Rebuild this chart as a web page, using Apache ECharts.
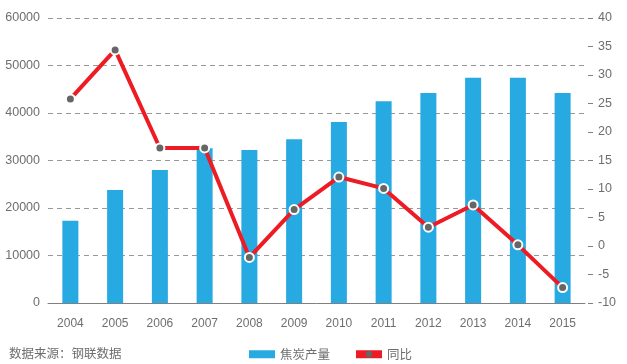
<!DOCTYPE html>
<html>
<head>
<meta charset="utf-8">
<script src="https://cdn.jsdelivr.net/npm/echarts@6/dist/echarts.min.js"></script>
<style>
html,body{margin:0;padding:0;background:#fff;}
#chart{width:627px;height:364px;}
</style>
</head>
<body>
<div id="chart"></div>
<script>
const years = ['2004','2005','2006','2007','2008','2009','2010','2011','2012','2013','2014','2015'];
const cokeOutput = [17300, 23800, 28000, 32600, 32200, 34500, 38100, 42500, 44200, 47400, 47400, 44200];
const yoyGrowth = [25.8, 34.4, 17.2, 17.2, -2.0, 6.4, 12.1, 10.1, 3.3, 7.2, 0.2, -7.3];
const sourceText = '数据来源：钢联数据';
const barName = '焦炭产量';
const lineName = '同比';

const labelColor = '#6d6e71';
const font = '"Liberation Sans", Arial, sans-serif';
const chart = echarts.init(document.getElementById('chart'));
chart.setOption({
  animation: false,
  backgroundColor: '#fff',
  title: {
    text: sourceText,
    left: 4,
    top: 342,
    textStyle: {fontSize: 12.5, fontWeight: 'normal', color: labelColor, fontFamily: '"Noto Sans CJK SC", sans-serif'}
  },
  legend: {
    left: 244,
    top: 343,
    itemGap: 22,
    itemWidth: 26,
    itemHeight: 8,
    textStyle: {fontSize: 12.5, color: labelColor, fontFamily: '"Noto Sans CJK SC", sans-serif'},
    data: [
      {name: barName, icon: 'rect'},
      {name: lineName, lineStyle: {width: 8}, itemStyle: {color: '#666', borderWidth: 0}}
    ]
  },
  grid: {left: 48, right: 42, top: 18, bottom: 61},
  xAxis: {
    type: 'category',
    data: years,
    axisLine: {lineStyle: {color: '#808080', width: 1}},
    axisTick: {inside: true, length: 5, lineStyle: {color: '#808080'}},
    axisLabel: {color: labelColor, fontSize: 12, margin: 15, fontFamily: font}
  },
  yAxis: [
    {
      type: 'value',
      min: 0, max: 60000, interval: 10000,
      axisLine: {show: false},
      axisTick: {show: false},
      axisLabel: {color: labelColor, fontSize: 12.5, margin: 8, fontFamily: font, formatter: v => String(v)},
      splitLine: {lineStyle: {color: '#999', type: [5, 4], width: 1}}
    },
    {
      type: 'value',
      position: 'right',
      offset: 3,
      min: -10, max: 40, interval: 5,
      axisLine: {show: false},
      axisTick: {show: true, length: 5, lineStyle: {color: '#808080'}},
      axisLabel: {color: labelColor, fontSize: 12.5, margin: 10, fontFamily: font},
      splitLine: {show: false}
    }
  ],
  series: [
    {
      name: barName,
      type: 'bar',
      data: cokeOutput,
      barWidth: 16,
      itemStyle: {color: '#27a9e1'}
    },
    {
      name: lineName,
      type: 'line',
      yAxisIndex: 1,
      data: yoyGrowth,
      symbol: 'circle',
      symbolSize: 9,
      lineStyle: {color: '#ed1c24', width: 4},
      itemStyle: {color: '#666', borderColor: '#fff', borderWidth: 2}
    }
  ]
});
</script>
</body>
</html>
